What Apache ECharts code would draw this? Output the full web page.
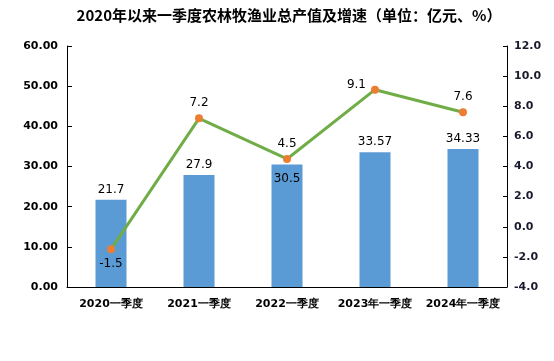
<!DOCTYPE html>
<html><head><meta charset="utf-8">
<script src="https://cdn.jsdelivr.net/npm/echarts@6/dist/echarts.min.js"></script>
<style>html,body{margin:0;padding:0;background:#fff}#c{width:554px;height:361px}</style>
</head><body><div id="c"></div>
<script>
const categories = ['2020一季度','2021一季度','2022一季度','2023年一季度','2024年一季度'];
const outputValues = [21.7, 27.9, 30.5, 33.57, 34.33];
const growthRates = [-1.5, 7.2, 4.5, 9.1, 7.6];
const barLabelPos = ['top','top','insideTop','top','top'];
const lineLabelPos = ['bottom','top','top','left','top'];

const chart = echarts.init(document.getElementById('c'), null, {renderer:'canvas'});
const numFont = 'DejaVu Sans, Verdana, sans-serif';
chart.setOption({
  animation:false,
  title:{text:'2020年以来一季度农林牧渔业总产值及增速（单位：亿元、%）',left:284,textAlign:'center',top:3,
    textStyle:{fontSize:15,fontWeight:'bold',color:'#000',fontFamily:'Noto Sans CJK SC'}},
  grid:{left:67,right:47,top:46,bottom:74,containLabel:false},
  xAxis:{type:'category',data:categories,
    axisLine:{lineStyle:{color:'#000',width:1}},
    axisTick:{inside:true,length:4,lineStyle:{color:'#000'}},
    axisLabel:{color:'#000',fontWeight:'bold',fontSize:11,fontFamily:numFont,margin:12,interval:0}},
  yAxis:[
    {type:'value',min:0,max:60,interval:10,splitLine:{show:false},
     axisLine:{show:true,lineStyle:{color:'#000'}},
     axisTick:{show:true,inside:true,length:5,lineStyle:{color:'#000'}},
     axisLabel:{formatter:v=>v.toFixed(2),color:'#000',fontWeight:'bold',fontSize:11,fontFamily:numFont,margin:9}},
    {type:'value',min:-4,max:12,interval:2,splitLine:{show:false},position:'right',
     axisLine:{show:true,lineStyle:{color:'#000'}},
     axisTick:{show:true,inside:true,length:4,lineStyle:{color:'#000'}},
     axisLabel:{formatter:v=>v.toFixed(1),color:'#1a1a2e',fontWeight:'bold',fontSize:11,fontFamily:numFont,margin:7}}
  ],
  series:[
    {type:'bar',yAxisIndex:0,barWidth:31,
     data:outputValues.map((v,i)=>({value:v,label:{position:barLabelPos[i],distance:barLabelPos[i]==='insideTop'?8:4}})),
     itemStyle:{color:'#5B9BD5'},
     label:{show:true,color:'#000',fontSize:12,fontFamily:numFont}},
    {type:'line',yAxisIndex:1,
     data:growthRates.map((v,i)=>({value:v,label:{position:lineLabelPos[i],offset:lineLabelPos[i]==='left'?[0,-5]:[0,0]}})),
     lineStyle:{color:'#70AD47',width:3},
     itemStyle:{color:'#ED7D31'},symbol:'circle',symbolSize:8,
     label:{show:true,color:'#000',fontSize:12,fontFamily:numFont,distance:5}}
  ]
});
</script></body></html>
